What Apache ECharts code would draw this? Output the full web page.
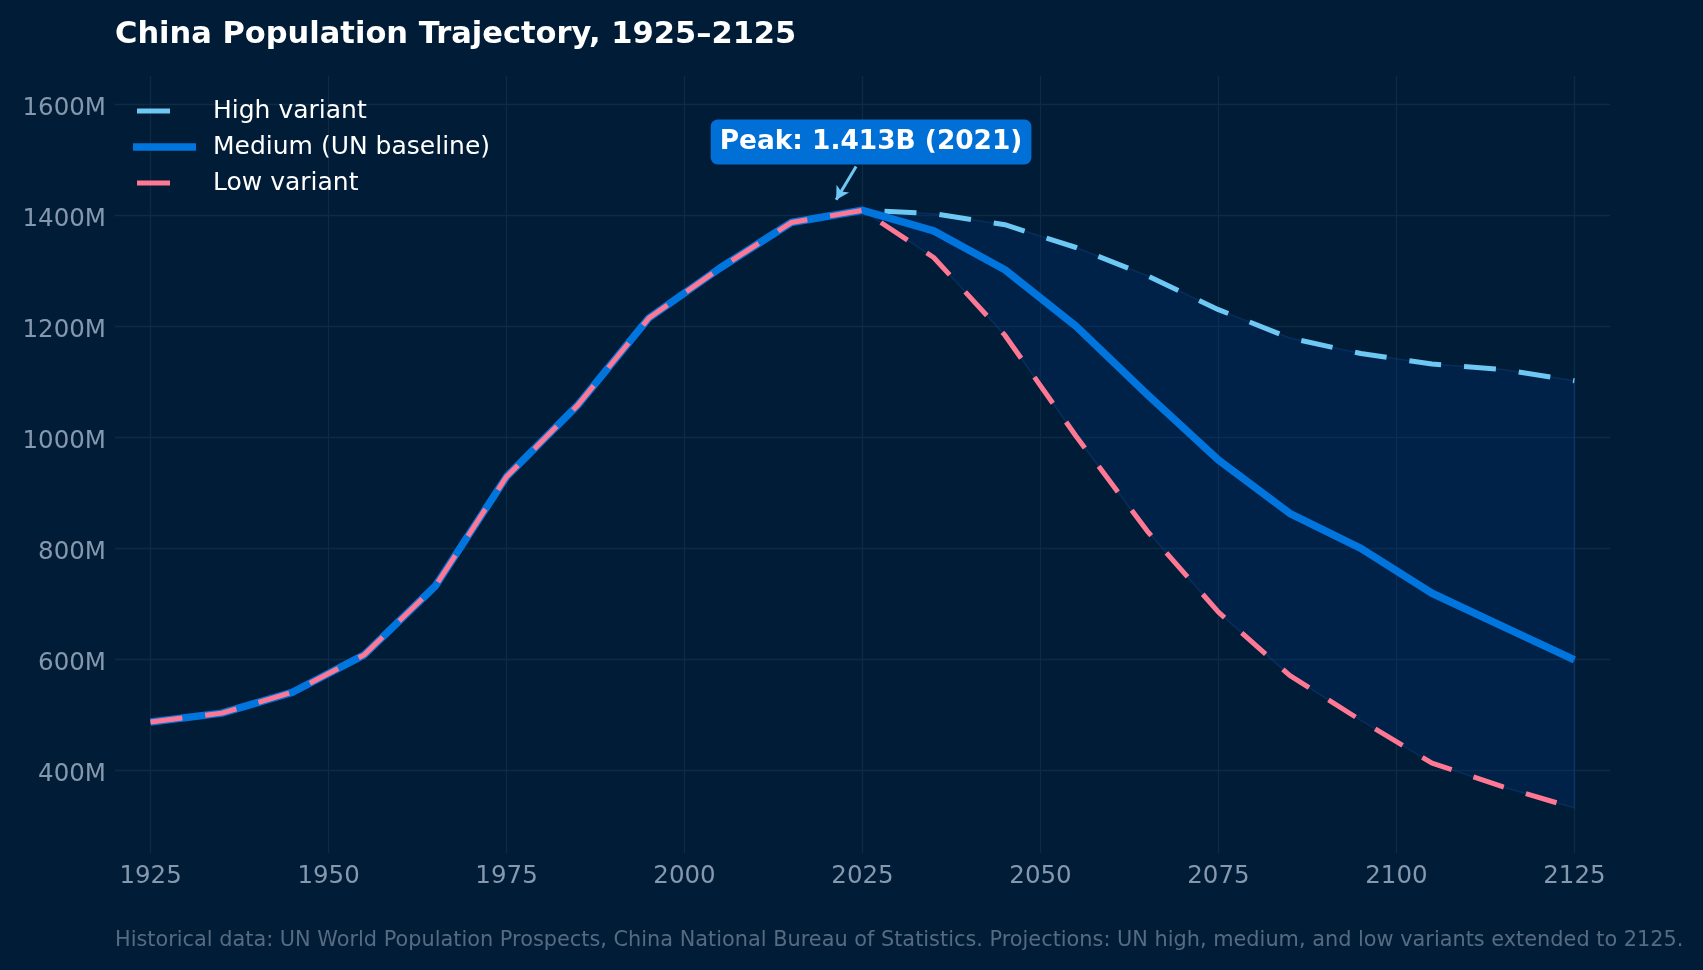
<!DOCTYPE html>
<html>
<head>
<meta charset="utf-8">
<script src="https://cdn.jsdelivr.net/npm/echarts@6/dist/echarts.min.js"></script>
<style>
html,body{margin:0;padding:0;background:#001c37;}
#chart{width:1703px;height:970px;}
</style>
</head>
<body>
<div id="chart"></div>
<script>
// ---- data (millions) ----
const years = [1925,1935,1945,1955,1965,1975,1985,1995,2005,2015,2025,2035,2045,2055,2065,2075,2085,2095,2105,2115,2125];
const history = [486,502,540,607,731,928,1057,1214,1304,1386,1408]; // 1925-2025
const highProj = [1402,1382,1341,1290,1229,1178,1150,1131,1121,1101]; // 2035-2125
const mediumProj = [1371,1301,1199,1076,958,862,799,718,658,598];
const lowProj = [1323,1183,1001,830,684,570,489,412,369,331];
const xTicks = [1925,1950,1975,2000,2025,2050,2075,2100,2125];
const yTicks = [400,600,800,1000,1200,1400,1600];
const peakYear = 2021, peakValue = 1413;
const peakLabel = 'Peak: 1.413B (2021)';
const titleText = 'China Population Trajectory, 1925\u20132125';
const footnote = 'Historical data: UN World Population Prospects, China National Bureau of Statistics. Projections: UN high, medium, and low variants extended to 2125.';

const high = history.concat(highProj);
const medium = history.concat(mediumProj);
const low = history.concat(lowProj);
const pairs = arr => years.map((y, i) => [y, arr[i]]);
const projStart = history.length - 1;
const bandYears = years.slice(projStart);
const bandLow = low.slice(projStart);
const bandHigh = high.slice(projStart);

const FONT = 'DejaVu Sans';
const C_HIGH = '#6ec8f4', C_MED = '#0075de', C_LOW = '#ff7893';
const GRID_C = '#0f2a44';
const TICK_C = '#8598ad';

const chart = echarts.init(document.getElementById('chart'), null, {renderer: 'canvas'});
chart.setOption({
  backgroundColor: '#001c37',
  animation: false,
  title: {
    text: titleText, left: 115, top: 20, padding: 0,
    textStyle: {color: '#ffffff', fontSize: 30.5, fontWeight: 'bold', fontFamily: FONT}
  },
  legend: [
    {data: ['High variant'], left: 137, top: 96, padding: 0, icon: 'rect', itemWidth: 33, itemHeight: 5,
     itemStyle: {color: C_HIGH, borderWidth: 0},
     textStyle: {color: '#ffffff', fontSize: 25, fontFamily: FONT, lineHeight: 30, padding: [0,0,0,38]}},
    {data: ['Medium (UN baseline)'], left: 133, top: 132, padding: 0, icon: 'rect', itemWidth: 63, itemHeight: 7.5,
     itemStyle: {color: C_MED, borderWidth: 0},
     textStyle: {color: '#ffffff', fontSize: 25, fontFamily: FONT, lineHeight: 30, padding: [0,0,0,12]}},
    {data: ['Low variant'], left: 137, top: 168, padding: 0, icon: 'rect', itemWidth: 33, itemHeight: 5,
     itemStyle: {color: C_LOW, borderWidth: 0},
     textStyle: {color: '#ffffff', fontSize: 25, fontFamily: FONT, lineHeight: 30, padding: [0,0,0,38]}}
  ],
  grid: {left: 115, right: 93, top: 76, bottom: 117, containLabel: false},
  xAxis: {
    type: 'value', min: 1920, max: 2130,
    axisLine: {show: false},
    axisTick: {show: false, customValues: xTicks},
    axisLabel: {customValues: xTicks, color: TICK_C, fontSize: 24.5, fontFamily: FONT, margin: 11, formatter: v => String(v)},
    splitLine: {show: true, lineStyle: {color: GRID_C, width: 1.3}}
  },
  yAxis: {
    type: 'value', min: 250, max: 1650,
    axisLine: {show: false},
    axisTick: {show: false, customValues: yTicks},
    axisLabel: {customValues: yTicks, color: TICK_C, fontSize: 24.5, fontFamily: FONT, margin: 9,
                formatter: v => '{a|' + v + 'M}',
                rich: {a: {color: TICK_C, fontSize: 24.5, fontFamily: FONT, padding: [10, 0, 0, 0]}}},
    splitLine: {show: true, lineStyle: {color: GRID_C, width: 1.3}}
  },
  graphic: [{
    type: 'text', left: 115, top: 930, silent: true,
    style: {text: footnote, fill: '#566b82', font: '20.85px "DejaVu Sans"'}
  }],
  series: [
    {name: 'band', type: 'custom', silent: true, z: 1,
     data: [[bandYears[0], bandLow[0]]],
     renderItem: function (params, api) {
       const top = bandYears.map((y, i) => api.coord([y, bandHigh[i]]));
       const bot = bandYears.map((y, i) => api.coord([y, bandLow[i]])).reverse();
       return {type: 'polygon', shape: {points: top.concat(bot)},
               style: {fill: 'rgba(0,62,142,0.2)', stroke: 'rgba(20,75,140,0.35)', lineWidth: 1.5}};
     }},
    {name: 'High variant', type: 'line', symbol: 'none', data: pairs(high), z: 3,
     itemStyle: {color: C_HIGH},
     lineStyle: {color: C_HIGH, width: 5, type: [32, 23], cap: 'butt'}},
    {name: 'Medium (UN baseline)', type: 'line', symbol: 'none', data: pairs(medium), z: 4,
     itemStyle: {color: C_MED},
     lineStyle: {color: C_MED, width: 7.5, join: 'round'},
     markPoint: {
       symbol: 'rect', symbolSize: 0, silent: true,
       data: [{coord: [peakYear + 5.2, peakValue + 118], value: peakLabel}],
       label: {show: true, position: 'inside', formatter: peakLabel, color: '#ffffff',
               fontSize: 26.4, fontWeight: 'bold', fontFamily: FONT,
               backgroundColor: '#0070d6', borderRadius: 7, padding: [10, 9, 9, 9]}
     },
     markLine: {
       silent: true, symbol: ['none', 'arrow'], symbolSize: [11, 13],
       label: {show: false},
       lineStyle: {color: C_HIGH, width: 3, type: 'solid'},
       data: [[{coord: [peakYear + 3.1, peakValue + 74]}, {coord: [peakYear + 0.3, peakValue + 14]}]]
     }},
    {name: 'Low variant', type: 'line', symbol: 'none', data: pairs(low), z: 5,
     itemStyle: {color: C_LOW},
     lineStyle: {color: C_LOW, width: 5, type: [32, 23], cap: 'butt'}}
  ]
});
</script>
</body>
</html>
